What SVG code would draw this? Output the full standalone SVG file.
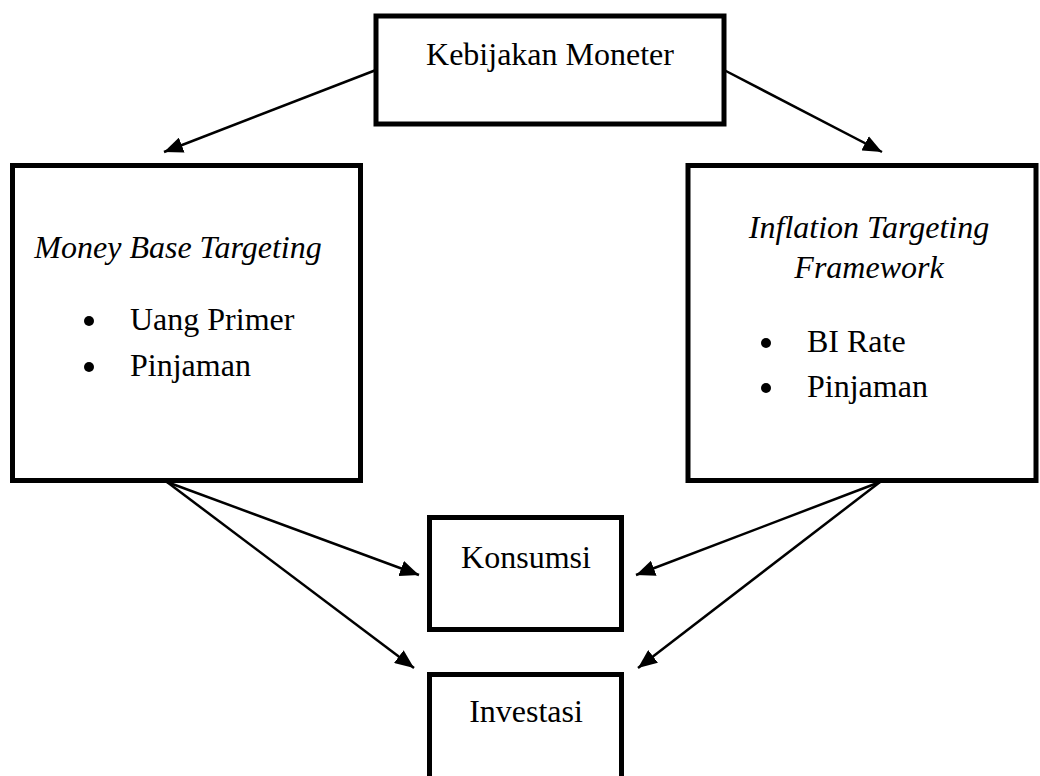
<svg xmlns="http://www.w3.org/2000/svg" width="1040" height="776" viewBox="0 0 1040 776">
<style>
.box{fill:#fff;stroke:#000;stroke-width:5}
.t{font-family:"Liberation Serif","Times New Roman",serif;font-size:32px;fill:#000}
.i{font-style:italic}
.c{stroke:#000;stroke-width:2.5;fill:none;marker-end:url(#ah)}
</style>
<defs>
<marker id="ah" markerUnits="userSpaceOnUse" markerWidth="20" markerHeight="16" refX="19" refY="8" orient="auto">
<path d="M0,0 L19,8 L0,16 Z" fill="#000"/>
</marker>
</defs>
<rect width="1040" height="776" fill="#fff"/>
<g id="connectors">
<line class="c" x1="376" y1="70" x2="164" y2="152"/>
<line class="c" x1="724" y1="70" x2="882" y2="152"/>
<line class="c" x1="167" y1="482" x2="419" y2="575"/>
<line class="c" x1="167" y1="482" x2="414" y2="668"/>
<line class="c" x1="880" y1="482" x2="636" y2="575"/>
<line class="c" x1="880" y1="482" x2="638" y2="668"/>
</g>
<g id="kebijakan">
<rect class="box" x="376" y="16" width="348" height="108"/>
<text class="t" x="550" y="65" text-anchor="middle">Kebijakan Moneter</text>
</g>
<g id="money-base">
<rect class="box" x="12.5" y="165.5" width="348" height="315"/>
<text class="t i" x="178" y="258" text-anchor="middle">Money Base Targeting</text>
<circle cx="89" cy="321" r="5"/>
<text class="t" x="130" y="330">Uang Primer</text>
<circle cx="89" cy="367" r="5"/>
<text class="t" x="130" y="376">Pinjaman</text>
</g>
<g id="inflation">
<rect class="box" x="688" y="165.5" width="348" height="315"/>
<text class="t i" x="869" y="238" text-anchor="middle">Inflation Targeting</text>
<text class="t i" x="869" y="278" text-anchor="middle">Framework</text>
<circle cx="766" cy="343" r="5"/>
<text class="t" x="807" y="352">BI Rate</text>
<circle cx="766" cy="388" r="5"/>
<text class="t" x="807" y="397">Pinjaman</text>
</g>
<g id="konsumsi">
<rect class="box" x="429.5" y="517.5" width="192" height="112"/>
<text class="t" x="526" y="568" text-anchor="middle">Konsumsi</text>
</g>
<g id="investasi">
<rect class="box" x="429.5" y="674.5" width="192" height="120"/>
<text class="t" x="526" y="722" text-anchor="middle">Investasi</text>
</g>
</svg>
